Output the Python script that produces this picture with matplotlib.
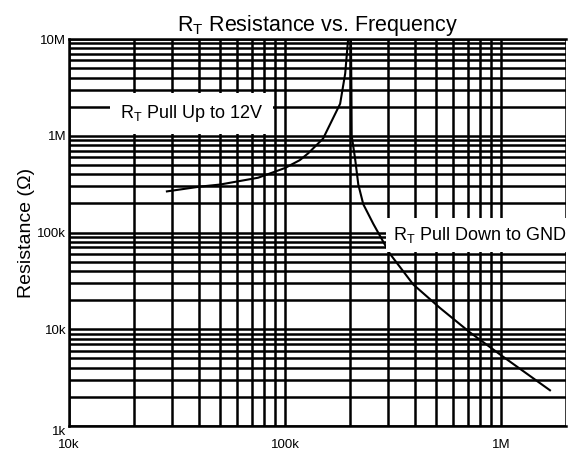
import matplotlib.pyplot as plt
from matplotlib.ticker import LogLocator, NullFormatter

plt.rcParams['font.family'] = ['Liberation Sans', 'DejaVu Sans']

# curva pull up (Hz, ohm)
up_freq = [28.4e3, 40.4e3, 50e3, 75e3, 100e3, 117e3, 128e3, 150e3, 180e3, 190e3, 196e3]
up_res = [266e3, 298e3, 313e3, 368e3, 464e3, 559e3, 658e3, 933e3, 2.14e6, 4.4e6, 10e6]

# curva pull down (Hz, ohm)
down_freq = [202e3, 203e3, 203.6e3, 211e3, 218.5e3, 230.4e3, 256.3e3, 306.3e3, 392.6e3,
             521.9e3, 718.6e3, 1.022e6, 1.686e6]
down_res = [10e6, 3.1e6, 1e6, 586e3, 313e3, 196e3, 123e3, 60.1e3, 29e3,
            16.6e3, 9.27e3, 5.21e3, 2.34e3]

x_ticks = [10e3, 100e3, 1e6]
x_labels = ['10k', '100k', '1M']
y_ticks = [1e3, 10e3, 100e3, 1e6, 10e6]
y_labels = ['1k', '10k', '100k', '1M', '10M']

fig = plt.figure(figsize=(5.68, 4.53), dpi=100)
ax = fig.add_axes([69 / 568, 27 / 453, 497 / 568, 387 / 453])

ax.plot(up_freq, up_res, color='black', lw=1.5, zorder=3)
ax.plot(down_freq, down_res, color='black', lw=1.5, zorder=3)

ax.set_xscale('log')
ax.set_yscale('log')
ax.set_xlim(10e3, 2e6)
ax.set_ylim(1e3, 10e6)

ax.set_xticks(x_ticks)
ax.set_xticklabels(x_labels)
ax.set_yticks(y_ticks)
ax.set_yticklabels(y_labels)
ax.xaxis.set_minor_locator(LogLocator(base=10, subs=range(2, 10)))
ax.yaxis.set_minor_locator(LogLocator(base=10, subs=range(2, 10)))
ax.xaxis.set_minor_formatter(NullFormatter())
ax.yaxis.set_minor_formatter(NullFormatter())
ax.tick_params(which='both', length=0, labelsize=9.5, pad=2)
ax.tick_params(axis='x', pad=9)
ax.get_yticklabels()[0].set_va('top')

ax.grid(which='both', color='black', lw=1.8)
ax.set_axisbelow(True)
for s in ['left', 'bottom', 'top']:
    ax.spines[s].set_linewidth(1.8)
ax.spines['right'].set_visible(False)

ax.set_ylabel('Resistance (Ω)', fontsize=14, labelpad=2)
ax.set_title('R$_\\mathregular{T}$ Resistance vs. Frequency', fontsize=15.5, pad=6)

# etiquetas con fondo blanco
ax.text(0.247, 0.808, 'R$_\\mathregular{T}$ Pull Up to 12V', transform=ax.transAxes,
        fontsize=13, ha='center', va='center', zorder=4,
        bbox=dict(facecolor='white', edgecolor='none', pad=7))
ax.text(0.827, 0.494, 'R$_\\mathregular{T}$ Pull Down to GND', transform=ax.transAxes,
        fontsize=13, ha='center', va='center', zorder=4,
        bbox=dict(facecolor='white', edgecolor='none', pad=5))

fig.savefig('out.png', dpi=100)
